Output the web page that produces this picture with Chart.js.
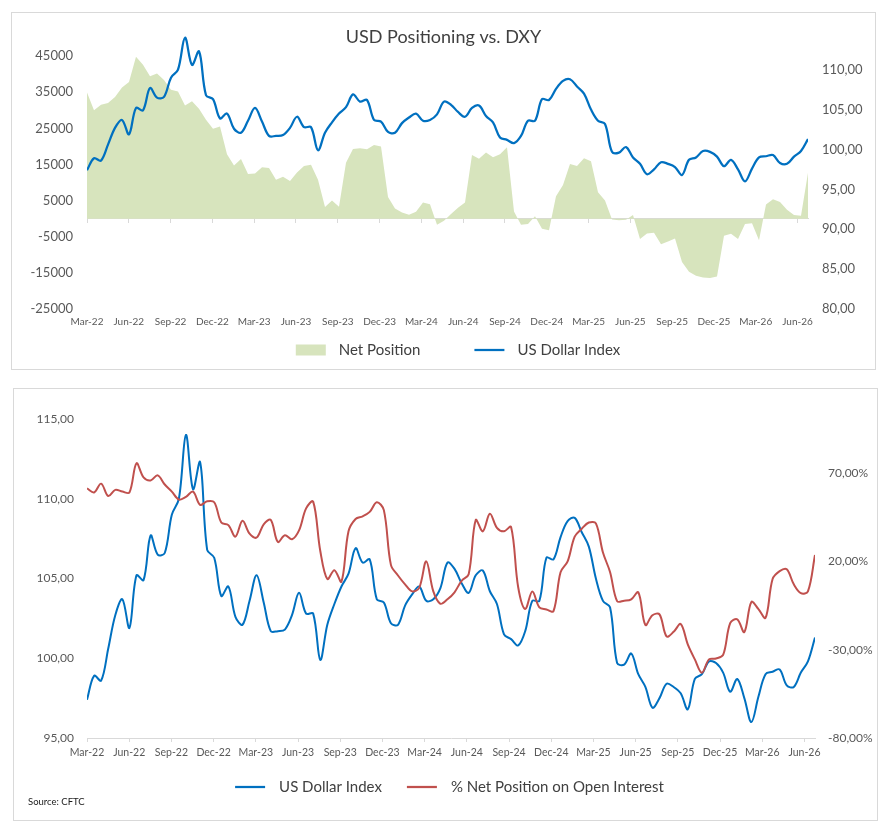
<!DOCTYPE html>
<html>
<head>
<meta charset="utf-8">
<script src="https://cdn.jsdelivr.net/npm/chart.js@4.4.1/dist/chart.umd.min.js"></script>
<style>
  html, body { margin: 0; padding: 0; background: #fff; }
  .panel { position: absolute; border: 1px solid #d9d9d9; background: #fff; }
  #p1 { left: 11px; top: 12px; width: 863px; height: 356px; }
  #p2 { left: 13px; top: 388px; width: 863px; height: 431px; }
</style>
</head>
<body>
<div class="panel" id="p1"><canvas id="chartTop"></canvas></div>
<div class="panel" id="p2"><canvas id="chartBottom"></canvas></div>
<script>
// Defaults globales (look Excel)
Chart.defaults.font.family = "Lato, 'Open Sans', Arial, sans-serif";
Chart.defaults.color = "#595959";

// ==================== Datos ====================
// eje x: meses desde Mar-22 (una observación cada ~medio mes)
const xTickLabels = ["Mar-22","Jun-22","Sep-22","Dec-22","Mar-23","Jun-23","Sep-23","Dec-23","Mar-24",
                     "Jun-24","Sep-24","Dec-24","Mar-25","Jun-25","Sep-25","Dec-25","Mar-26","Jun-26"];
const lastMonth = 51.75;

// CFTC net position (contratos)
const netPosition = [
  34950, 30000, 31500, 32000, 33700, 36300, 37800, 44800, 42600, 39400,
  40200, 38400, 35700, 35200, 31300, 32500, 30400, 27400, 24900, 25500,
  17800, 14700, 16500, 12400, 12500, 14200, 14000, 10800, 11600, 10400,
  12800, 14600, 14900, 10800, 3200, 5000, 3300, 15500, 19300, 19500,
  19200, 20400, 20000, 6000, 2800, 1700, 1100, 1900, 4500, 4000,
  -1700, -600, 1300, 3000, 4500, 17600, 16600, 18300, 17000, 17800,
  19800, 2000, -1700, -1500, 700, -2800, -3200, 6200, 9300, 15100,
  14600, 16700, 15900, 7300, 5000, -250, -420, -300, 1000, -5600,
  -4100, -3900, -7100, -6300, -5500, -12000, -14700, -15800, -16250, -16400,
  -16000, -4700, -4150, -5600, -1500, -1300, -6000, 3950, 5400, 4600,
  2500, 1000, 800, 12700
];

// DXY
const dollarIndex = [
  97.4, 98.9, 98.6, 100.6, 102.7, 103.7, 101.9, 105.2, 104.9, 107.7,
  106.5, 106.6, 109.0, 110.0, 114.0, 110.6, 112.3, 106.8, 106.3, 103.9,
  104.5, 102.6, 102.1, 103.6, 105.2, 103.5, 101.7, 101.7, 101.8, 102.7,
  104.1, 102.8, 102.8, 99.9, 102.1, 103.4, 104.5, 105.3, 106.9, 106.0,
  106.2, 103.7, 103.5, 102.2, 102.1, 103.3, 104.0, 104.5, 103.6, 103.7,
  104.4, 106.0, 105.6, 104.7, 104.1, 105.2, 105.5, 104.2, 103.4, 101.5,
  101.2, 100.8, 101.7, 103.6, 103.6, 106.3, 106.2, 107.6, 108.6, 108.8,
  107.9, 107.0, 105.0, 103.6, 103.2, 99.7, 99.6, 100.3, 99.0, 98.2,
  96.9, 97.5, 98.4, 98.2, 97.8, 96.8, 98.7, 99.0, 99.8, 99.7,
  99.1, 97.9, 98.7, 97.5, 96.0, 97.6, 99.0, 99.15, 99.3, 98.3,
  98.2, 99.1, 99.8, 101.3
];

// % net position sobre open interest
const pctNetOI = [
  61.3, 59.0, 64.0, 57.0, 60.5, 59.5, 59.0, 75.5, 67.5, 65.8,
  68.7, 63.5, 59.5, 55.0, 56.5, 59.5, 52.0, 54.0, 53.5, 42.0,
  40.5, 34.0, 43.0, 35.7, 33.5, 41.0, 43.5, 31.0, 34.8, 32.5,
  37.5, 50.0, 53.8, 26.0, 10.0, 15.0, 8.5, 37.0, 44.0, 45.5,
  48.0, 53.5, 49.0, 18.0, 12.0, 7.0, 3.0, 5.0, 20.0, 3.0,
  -4.0, -1.5, 2.5, 9.0, 12.7, 43.4, 37.0, 47.0, 39.0, 37.0,
  39.5, 5.5, -7.0, 3.0, -6.0, -7.2, -8.2, 13.8, 20.0, 34.0,
  38.5, 42.0, 41.5, 25.0, 14.0, -2.5, -2.3, -1.5, 2.5, -16.0,
  -10.5, -10.0, -22.5, -19.9, -15.5, -27.0, -35.5, -43.0, -35.5, -35.0,
  -33.0, -15.0, -12.8, -20.0, -3.0, -7.0, -12.0, 10.0, 14.5, 15.5,
  7.0, 2.0, 3.0, 23.6
];

const topLeftTicks = [-25000, -15000, -5000, 5000, 15000, 25000, 35000, 45000];
const topRightTicks = [80, 85, 90, 95, 100, 105, 110];
const bottomLeftTicks = [95, 100, 105, 110, 115];
const bottomRightTicks = [-80, -30, 20, 70];

// ==================== Helpers ====================
const months = dollarIndex.map((_, i) => i * lastMonth / (dollarIndex.length - 1));
const xTickPositions = xTickLabels.map((_, i) => i * 3);
const pts = arr => arr.map((v, i) => ({ x: months[i], y: v }));
const coma = (v, d) => v.toFixed(d).replace(".", ",");
const setTicks = list => scale => { scale.ticks = list.map(v => ({ value: v })); };
const fixWidth = w => scale => { scale.width = w; };
const xLabel = v => xTickLabels[Math.round(v / 3)];
// eje vertical sin líneas: la separación de las etiquetas va en tickLength (no en padding)
const sinGrid = gap => ({ display: false, drawTicks: true, tickLength: gap });

// leyenda estilo Excel (espaciado propio)
const legendaExcel = {
  id: "legendaExcel",
  afterDraw(chart, args, opts) {
    const ctx = chart.ctx;
    const items = chart.data.datasets;
    ctx.save();
    ctx.font = opts.size + "px " + Chart.defaults.font.family;
    const widths = items.map(d => ctx.measureText(d.label).width);
    const total = widths.reduce((a, w) => a + 30 + opts.textGap + w, 0) + opts.itemGap * (items.length - 1);
    let x = opts.cx - total / 2;
    items.forEach((d, i) => {
      if (d.fill) {
        ctx.fillStyle = d.backgroundColor;
        ctx.fillRect(x, opts.y - 5.5, 30, 11);
      } else {
        ctx.strokeStyle = d.borderColor;
        ctx.lineWidth = 2.25;
        ctx.beginPath(); ctx.moveTo(x, opts.y); ctx.lineTo(x + 30, opts.y); ctx.stroke();
      }
      x += 30 + opts.textGap;
      ctx.fillStyle = "#404040";
      ctx.textAlign = "left";
      ctx.textBaseline = "middle";
      ctx.fillText(d.label, x, opts.y);
      x += widths[i] + opts.itemGap;
    });
    if (opts.source) {
      ctx.font = "9.5px " + Chart.defaults.font.family;
      ctx.fillStyle = "#1a1a1a";
      ctx.fillText(opts.source, 14, opts.sourceY);
    }
    ctx.restore();
  }
};

// ==================== USD Positioning vs. DXY ====================
new Chart(document.getElementById("chartTop"), {
  type: "line",
  data: {
    datasets: [
      { label: "Net Position", data: pts(netPosition), yAxisID: "y", fill: "origin",
        backgroundColor: "#d7e4bd", borderWidth: 0, pointRadius: 0, tension: 0, order: 2 },
      { label: "US Dollar Index", data: pts(dollarIndex), yAxisID: "y2", fill: false,
        borderColor: "#0070c0", borderWidth: 2.25, pointRadius: 0, tension: 0.35, order: 1 }
    ]
  },
  options: {
    animation: false,
    responsive: true,
    maintainAspectRatio: false,
    layout: { padding: { top: 0, bottom: 40, left: 0, right: 0 } },
    scales: {
      x: { type: "linear", min: 0, max: lastMonth,
           grid: { display: false, drawTicks: false }, border: { display: false },
           ticks: { font: { size: 10 }, padding: 7, maxRotation: 0, autoSkip: false, callback: xLabel },
           afterBuildTicks: setTicks(xTickPositions), afterFit: s => { s.height = 20; } },
      x0: { type: "linear", min: 0, max: lastMonth, position: { y: 0 }, z: 1,
            ticks: { display: false },
            grid: { drawOnChartArea: false, drawTicks: true, tickLength: 4, color: "#d9d9d9" },
            border: { display: true, color: "#d9d9d9" },
            afterBuildTicks: setTicks(xTickPositions) },
      y: { position: "left", min: -25000, max: 52500,
           grid: sinGrid(14), border: { display: false },
           ticks: { font: { size: 13 }, padding: 0, callback: v => String(v) },
           afterBuildTicks: setTicks(topLeftTicks), afterFit: fixWidth(75) },
      y2: { position: "right", min: 80, max: 115.1,
            grid: sinGrid(14), border: { display: false },
            ticks: { font: { size: 13 }, padding: 0, callback: v => coma(v, 2) },
            afterBuildTicks: setTicks(topRightTicks), afterFit: fixWidth(67) }
    },
    plugins: {
      legend: { display: false },
      tooltip: { enabled: false },
      title: { display: true, text: "USD Positioning vs. DXY", color: "#404040",
               font: { size: 18, weight: "normal" }, padding: { top: 13.2, bottom: -18.8 } },
      legendaExcel: { cx: 446, y: 337, size: 15, textGap: 13, itemGap: 54 }
    }
  },
  plugins: [legendaExcel]
});

// ==================== DXY vs % Net Position on OI ====================
new Chart(document.getElementById("chartBottom"), {
  type: "line",
  data: {
    datasets: [
      { label: "US Dollar Index", data: pts(dollarIndex), yAxisID: "y", fill: false,
        borderColor: "#0070c0", borderWidth: 2, pointRadius: 0, tension: 0.35, order: 2 },
      { label: "% Net Position on Open Interest", data: pts(pctNetOI), yAxisID: "y2", fill: false,
        borderColor: "#c0504d", borderWidth: 2, pointRadius: 0, tension: 0.35, order: 1 }
    ]
  },
  options: {
    animation: false,
    responsive: true,
    maintainAspectRatio: false,
    layout: { padding: { top: 30, bottom: 61, left: 0, right: 0 } },
    scales: {
      x: { type: "linear", min: 0, max: lastMonth,
           grid: { drawOnChartArea: false, drawTicks: true, tickLength: 4, color: "#d9d9d9" },
           border: { display: true, color: "#d9d9d9" },
           ticks: { font: { size: 10.5 }, padding: 4, maxRotation: 0, autoSkip: false, callback: xLabel },
           afterBuildTicks: setTicks(xTickPositions), afterFit: s => { s.height = 21; } },
      y: { position: "left", min: 95, max: 115,
           grid: sinGrid(13), border: { display: false },
           ticks: { font: { size: 12 }, padding: 0, callback: v => coma(v, 2) },
           afterBuildTicks: setTicks(bottomLeftTicks), afterFit: fixWidth(73) },
      y2: { position: "right", min: -80, max: 100.6,
            grid: sinGrid(13), border: { display: false },
            ticks: { font: { size: 12 }, padding: 0, callback: v => coma(v, 2) + "%" },
            afterBuildTicks: setTicks(bottomRightTicks), afterFit: fixWidth(62) }
    },
    plugins: {
      legend: { display: false },
      tooltip: { enabled: false },
      legendaExcel: { cx: 435.5, y: 398, size: 15, textGap: 14, itemGap: 25,
                      source: "Source: CFTC", sourceY: 413 }
    }
  },
  plugins: [legendaExcel]
});
</script>
</body>
</html>
